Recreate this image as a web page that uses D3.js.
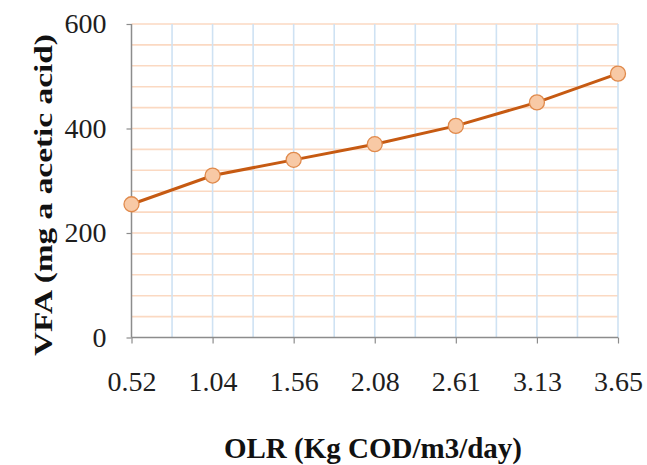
<!DOCTYPE html>
<html><head><meta charset="utf-8">
<script src="https://cdn.jsdelivr.net/npm/d3@7"></script>
<style>body{margin:0;background:#fff}svg{display:block}</style>
</head><body><svg id="c" width="647" height="465"></svg>
<script>
const categories = ["0.52","1.04","1.56","2.08","2.61","3.13","3.65"];
const vfa = [255, 310, 340, 370, 405, 450, 505];
const yTicks = [0, 200, 400, 600];
const yMinorStep = 40;
const xTitle = "OLR (Kg COD/m3/day)";
const yTitle = "VFA (mg a acetic acid)";

const svg = d3.select("#c");
const L = 131.5, R = 618, T = 24, B = 337.5;
const x = d3.scalePoint().domain(categories).range([L, R]);
const y = d3.scaleLinear().domain([0, 600]).range([B, T]);

// horizontal minor gridlines
const hg = d3.range(yMinorStep, 600 + 1, yMinorStep);
svg.append("g").selectAll("line").data(hg).join("line")
  .attr("x1", L).attr("x2", R).attr("y1", d => y(d)).attr("y2", d => y(d))
  .attr("stroke", "#fbd9c2").attr("stroke-width", 1.6);

// vertical gridlines at categories and midpoints
const step = x.step();
const vg = [];
categories.forEach((c, i) => { if (i > 0) vg.push(x(c)); if (i < categories.length - 1) vg.push(x(c) + step / 2); });
svg.append("g").selectAll("line").data(vg).join("line")
  .attr("x1", d => d).attr("x2", d => d).attr("y1", T).attr("y2", B)
  .attr("stroke", "#cfe2f3").attr("stroke-width", 1.6);

// axes
const yAxis = d3.axisLeft(y).tickValues(yTicks).tickSize(5).tickPadding(20).tickFormat(d3.format("d"));
const gy = svg.append("g").attr("transform", `translate(${L},0)`).call(yAxis);
const xAxis = d3.axisBottom(x).tickSize(6).tickPadding(28);
const gx = svg.append("g").attr("transform", `translate(0,${B})`).call(xAxis);
[gx, gy].forEach(g => {
  g.select(".domain").attr("stroke", "#8c8c8c").attr("stroke-width", 1.5);
  g.selectAll(".tick line").attr("stroke", "#8c8c8c").attr("stroke-width", 1.2);
  g.selectAll("text").attr("font-family", "Liberation Serif").attr("font-size", 28).attr("fill", "#1e1e1e");
});
gx.select(".domain").attr("d", `M${L},0H${R}`);
gy.select(".domain").attr("d", `M0,${B}V${T}`);

// line
const line = d3.line().x((d, i) => x(categories[i])).y(d => y(d));
svg.append("path").datum(vfa).attr("d", line).attr("fill", "none")
  .attr("stroke", "#c65a12").attr("stroke-width", 3);
svg.append("g").selectAll("circle").data(vfa).join("circle")
  .attr("cx", (d, i) => x(categories[i])).attr("cy", d => y(d)).attr("r", 7.5)
  .attr("fill", "#f8c9a5").attr("stroke", "#e08a4c").attr("stroke-width", 1.3);

// titles
svg.append("text").attr("x", 373).attr("y", 458).attr("text-anchor", "middle")
  .attr("font-family", "Liberation Serif").attr("font-weight", "bold").attr("font-size", 29)
  .attr("fill", "#111").text(xTitle);
svg.append("text").attr("transform", "translate(52,195) rotate(-90)").attr("text-anchor", "middle")
  .attr("font-family", "Liberation Serif").attr("font-weight", "bold").attr("font-size", 25)
  .attr("textLength", 322).attr("lengthAdjust", "spacingAndGlyphs")
  .attr("fill", "#111").text(yTitle);
</script></body></html>
